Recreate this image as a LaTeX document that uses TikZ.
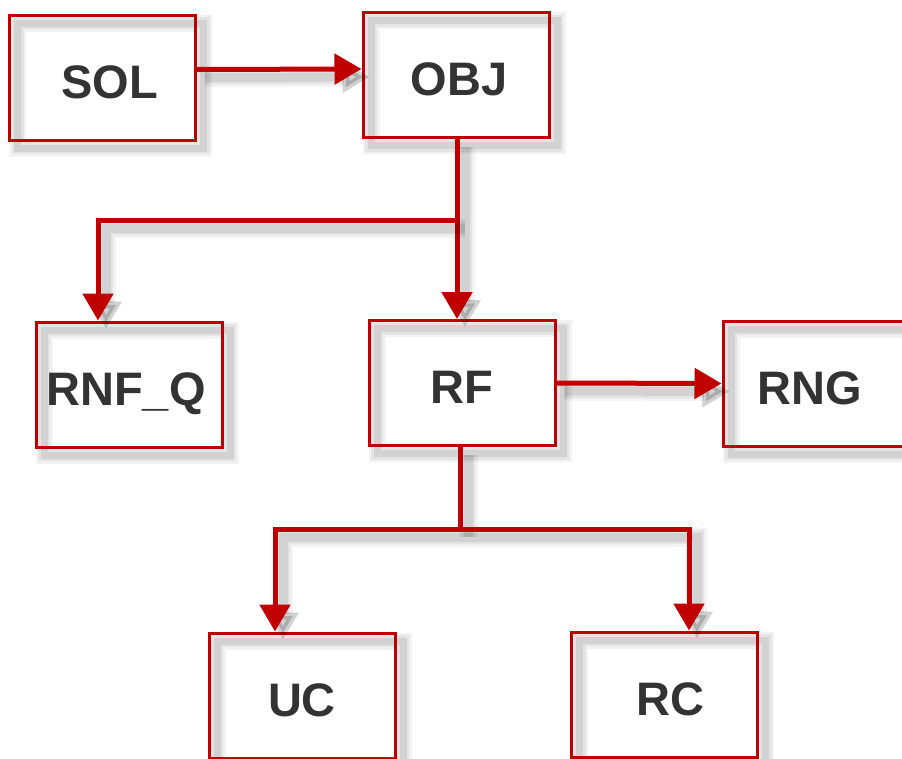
\documentclass[tikz,border=0pt]{standalone}
\usepackage{fontspec}
\setmainfont{Liberation Sans}
\usetikzlibrary{arrows.meta,calc}
\definecolor{bred}{RGB}{192,0,0}
\definecolor{txt}{RGB}{51,51,51}
\begin{document}
\begin{tikzpicture}[x=1pt,y=-1pt,
  sh/.style={
    preaction={draw=black,opacity=0.05,line width=#1+14pt,transform canvas={shift={(8pt,-8pt)}}},
    preaction={draw=black,opacity=0.06,line width=#1+9pt,transform canvas={shift={(8pt,-8pt)}}},
    preaction={draw=black,opacity=0.08,line width=#1+4pt,transform canvas={shift={(8pt,-8pt)}}}},
  box/.style={draw=bred,line width=3pt,minimum width=186pt,minimum height=125pt,inner sep=0pt,
    font=\fontsize{47}{47}\selectfont\bfseries,text=txt,text height=41pt,text depth=0pt,sh=3pt},
  wire/.style={draw=bred,line width=5pt,sh=5pt},
  conn/.style={wire,-{Triangle[length=27pt,width=30pt]}}
]
\useasboundingbox (0,0) rectangle (902,758);
\node[box] (SOL) at (102.5,77.5) {\hspace*{14pt}SOL};
\node[box] (OBJ) at (456,75) {\hspace*{6pt}OBJ};
\node[box] (RNFQ) at (129,384.5) {RNF\_Q\hspace*{6pt}};
\node[box] (RF) at (462,383) {RF};
\node[box] (RNG) at (816,383.5) {RNG\hspace*{12pt}};
\node[box] (UC) at (302,695.5) {UC};
\node[box] (RC) at (664.5,694.5) {\hspace*{12pt}RC};
\coordinate (j1) at (457,220);
\coordinate (k1) at (98,220);
\coordinate (j2) at (460,529);
\coordinate (k2) at (275,529);
\coordinate (k3) at (689,529);
\draw[conn] ($(SOL.east)+(0,-8)$) -- ($(OBJ.west)+(0,-6)$);
\draw[conn] (OBJ.south -| j1) -- (RF.north -| j1);
\draw[conn] (j1) -- (k1) -- (RNFQ.north -| k1);
\draw[conn] (RF.east) -- (RNG.west);
\draw[wire] (RF.south -| j2) -- (j2);
\draw[conn] (j2) -- (k2) -- (UC.north -| k2);
\draw[conn] (j2) -- (k3) -- (RC.north -| k3);
\end{tikzpicture}
\end{document}
